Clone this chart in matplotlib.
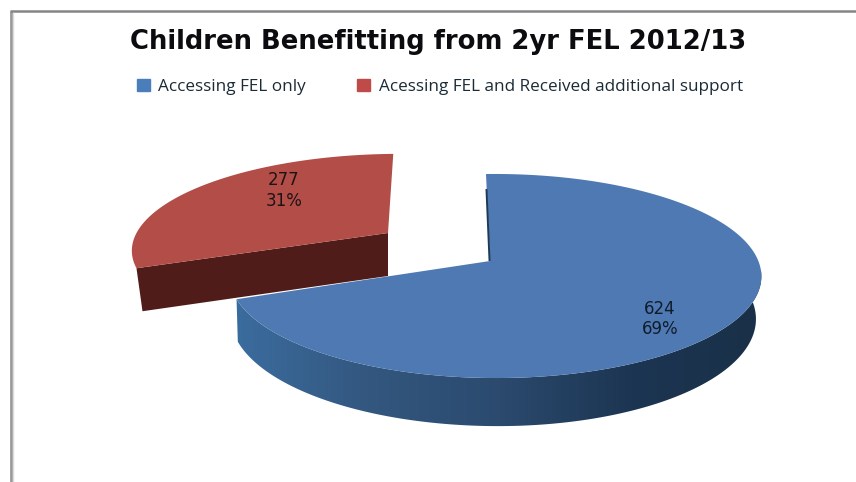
import numpy as np
import matplotlib
matplotlib.use('Agg')
import matplotlib.pyplot as plt
from matplotlib.colors import LinearSegmentedColormap
from matplotlib.patches import Patch, Polygon

title = 'Children Benefitting from 2yr FEL 2012/13'
categories = ['Accessing FEL only', 'Acessing FEL and Received additional support']
values = [624, 277]
colors = ['#4e79b3', '#b34d48']
legend_colors = ['#4a7ebb', '#be4b48']

total = sum(values)
shares = [100 * v / total for v in values]
start = -1.0
blue_end = start + 360 * values[0] / total
red_end = blue_end + 360 * values[1] / total


# ground circle to screen, a simple perspective projection
def project(theta, apex, a, b, k, m, skew=0, drop=0):
    t = np.radians(theta)
    x, y = np.sin(t), np.cos(t)
    w = 1 + k * y + m * x
    return apex[0] + (a * x + skew * y) / w, apex[1] - b * y / w + drop / w


fig = plt.figure(figsize=(8.56, 4.82), dpi=100)
ax = fig.add_axes([0, 0, 1, 1])
ax.set_xlim(0, 856)
ax.set_ylim(482, 0)
ax.axis('off')

# window frame
ax.plot([11, 11], [482, 11], color='#9a9a9a', lw=2.0, solid_capstyle='butt')
ax.plot([10, 856], [11, 11], color='#858585', lw=1.8, solid_capstyle='butt')
ax.plot([13, 13], [482, 13], color='#dcdcdc', lw=1.0)

plt.rcParams['font.family'] = ['Open Sans', 'DejaVu Sans']

# blue slice
blue = dict(apex=(490, 261), a=263, b=99.8, k=0.147, m=-0.02)
th = np.linspace(start, blue_end, 300)
xb, yb = project(th, **blue)

# side wall with a left to right shade, the lower rim pulls in a little
wall_th = np.linspace(60, blue_end, 200)
x1, y1 = project(wall_th, **blue)
x2, y2 = project(wall_th, drop=41, **blue)
x2 = blue['apex'][0] + (x2 - blue['apex'][0]) * np.where(x2 > blue['apex'][0], 0.98, 0.995)
wall = Polygon(np.column_stack([np.r_[x1, x2[::-1]], np.r_[y1, y2[::-1]]]), closed=True,
               fc='none', ec='none')
ax.add_patch(wall)
shade = LinearSegmentedColormap.from_list('wall', ['#3b6c9e', '#33577f', '#2b4a6e', '#1c3552', '#1a3048'])
img = ax.imshow(np.linspace(0, 1, 256)[None, :], cmap=shade, extent=(236, 764, 440, 270),
                aspect='auto', zorder=2)
img.set_clip_path(wall)
ax.set_xlim(0, 856)
ax.set_ylim(482, 0)

ax.fill(np.r_[blue['apex'][0], xb], np.r_[blue['apex'][1], yb], color=colors[0], lw=0, zorder=3)
# thin dark edge on the cut at the top of the slice
ax.plot([486.5, 489.5], [190, 260], color='#1d3a58', lw=1.4, zorder=4)

# pulled out red slice
red = dict(apex=(388, 233), a=254, b=91, k=0.15, m=-0.01, skew=10.5)
th = np.linspace(blue_end, red_end, 200)
xr, yr = project(th, **red)
ax.fill(np.r_[red['apex'][0], xr], np.r_[red['apex'][1], yr], color=colors[1], lw=0, zorder=6)

# red cut face, sits over the blue cut so no gap shows
left = project(blue_end, **red)
ax.fill([left[0], red['apex'][0], red['apex'][0], left[0] + 6],
        [left[1], red['apex'][1], red['apex'][1] + 43, left[1] + 43],
        color='#4f1c1a', lw=0, zorder=5)

# value labels
ax.text(284, 190.5, f'{values[1]}\n{shares[1]:.0f}%', ha='center', va='center', fontsize=12,
        family='DejaVu Sans', color='#1c1414', linespacing=1.15, zorder=8)
ax.text(660, 319, f'{values[0]}\n{shares[0]:.0f}%', ha='center', va='center', fontsize=12,
        family='DejaVu Sans', color='#101c2c', linespacing=1.15, zorder=8)

ax.text(438.5, 42, title, ha='center', va='center', fontsize=18.6, fontweight='bold',
        family='DejaVu Sans', color='#0c0c10')

handles = [Patch(color=c) for c in legend_colors]
ax.legend(handles, categories, loc='center', bbox_to_anchor=(0.5137, 0.82), ncol=2, frameon=False,
          fontsize=12.3, handlelength=0.75, handleheight=0.75, handletextpad=0.5, columnspacing=3.0,
          labelcolor='#1b2b36')

fig.savefig('out.png', dpi=100)
